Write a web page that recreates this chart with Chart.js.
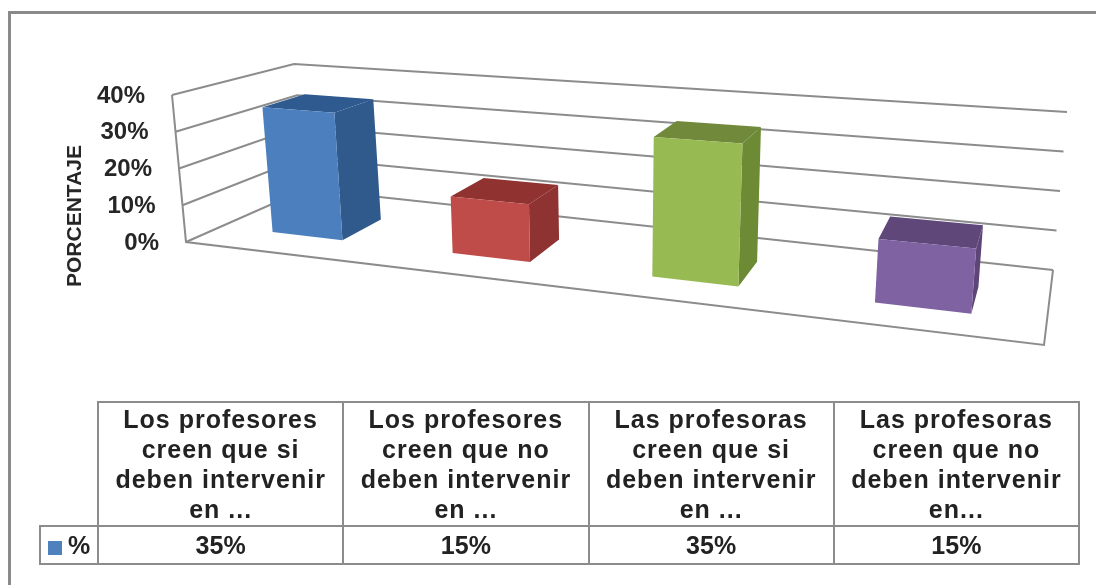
<!DOCTYPE html>
<html lang="es">
<head>
<meta charset="utf-8">
<title>Porcentaje</title>
<script src="https://cdn.jsdelivr.net/npm/chart.js@4"></script>
<style>
    html, body { margin: 0; padding: 0; background: #fff; overflow: hidden; }
    #wrap { position: relative; width: 1096px; height: 585px; }
    #frame { position: absolute; left: 8px; top: 11px; right: 0; bottom: 0; border-left: 3px solid #8a8a8a; border-top: 3px solid #8a8a8a; }
    #chart { position: absolute; left: 0; top: 0; }
    #dataTable { position: absolute; left: 39px; top: 401px; width: 1041px; height: 163px; table-layout: fixed; border-collapse: collapse; font: bold 25px/30px "Liberation Sans", Arial, sans-serif; color: #222; text-align: center; }
    #dataTable td { border: 2px solid #8c8c8c; padding: 0; overflow: hidden; }
    #dataTable td.empty { border-top: none; border-left: none; }
    #dataTable td.head { letter-spacing: 1px; }
    #key { display: inline-block; width: 14px; height: 14px; background: #4f81bd; margin-right: 6px; vertical-align: -1px; }
</style>
</head>
<body>
<div id="wrap">
    <div id="frame"></div>
    <canvas id="chart" width="1096" height="585"></canvas>
    <table id="dataTable"></table>
</div>
<script>
// Datos
const categories = [
    ["Los profesores", "creen que si", "deben intervenir", "en ..."],
    ["Los profesores", "creen que no", "deben intervenir", "en ..."],
    ["Las profesoras", "creen que si", "deben intervenir", "en ..."],
    ["Las profesoras", "creen que no", "deben intervenir", "en..."]
];
const seriesName = "%";
const values = [35, 15, 35, 15];
const tickValues = [0, 10, 20, 30, 40];
const tickLabels = ["0%", "10%", "20%", "30%", "40%"];
const axisTitle = "PORCENTAJE";

const frontColors = ["#4b7fbe", "#bf4c49", "#98ba52", "#7e62a2"];
const sideColors = ["#30598c", "#8e3331", "#6d8a35", "#5d4677"];
const topColors = ["#2f5a90", "#8f3230", "#71893a", "#5f477a"];

// Esquinas de la caja 3D: [izquierda/derecha][abajo/arriba][frente/fondo]
const box = {
    lbf: [186, 242], ltf: [172, 95], lbb: [306, 189], ltb: [294, 64],
    rbf: [1044, 345], rtf: [1060, 160], rbb: [1053, 270], rtb: [1067, 112]
};
const perspective = 1.24;
const barFront = 0.3;
const barBack = 0.67;

function lerp(a, b, t) {
    return [a[0] + (b[0] - a[0]) * t, a[1] + (b[1] - a[1]) * t];
}

// Pasa un punto del area del grafico a la caja 3D
function project(chart, px, py, d) {
    const area = chart.chartArea;
    const t = (px - area.left) / (area.right - area.left);
    const u = t / (t + perspective * (1 - t));
    const v = (area.bottom - py) / (area.bottom - area.top);
    const bottom = lerp(lerp(box.lbf, box.rbf, u), lerp(box.lbb, box.rbb, u), d);
    const top = lerp(lerp(box.ltf, box.rtf, u), lerp(box.ltb, box.rtb, u), d);
    return lerp(bottom, top, v);
}

function polyline(ctx, pts, close) {
    ctx.beginPath();
    pts.forEach((p, i) => i ? ctx.lineTo(p[0], p[1]) : ctx.moveTo(p[0], p[1]));
    if (close) ctx.closePath();
}

const box3d = {
    id: "box3d",
    beforeDatasetsDraw(chart) {
        const ctx = chart.ctx;
        const area = chart.chartArea;
        const y = chart.scales.y;
        ctx.save();
        ctx.strokeStyle = "#8c8c8c";
        ctx.lineWidth = 2;
        // lineas de las paredes
        tickValues.forEach(v => {
            const py = y.getPixelForValue(v);
            polyline(ctx, [
                project(chart, area.left, py, 0),
                project(chart, area.left, py, 1),
                project(chart, area.right, py, 1)
            ]);
            ctx.stroke();
        });
        // borde izquierdo y suelo
        polyline(ctx, [
            project(chart, area.left, area.top, 0),
            project(chart, area.left, area.bottom, 0),
            project(chart, area.right, area.bottom, 0),
            project(chart, area.right, area.bottom, 1)
        ]);
        ctx.stroke();

        // etiquetas del eje
        ctx.fillStyle = "#262626";
        ctx.font = 'bold 24px "Liberation Sans", Arial, sans-serif';
        ctx.textAlign = "right";
        ctx.textBaseline = "middle";
        tickValues.forEach((v, i) => {
            const p = project(chart, area.left, y.getPixelForValue(v), 0);
            ctx.fillText(tickLabels[i], p[0] - 27, p[1] + 1);
        });

        // titulo del eje
        ctx.translate(75, 216);
        ctx.rotate(-Math.PI / 2);
        ctx.textAlign = "center";
        ctx.font = 'bold 21px "Liberation Sans", Arial, sans-serif';
        ctx.fillText(axisTitle, 0, 0);
        ctx.restore();
    },
    // las barras se dibujan en 3D a partir de los elementos de Chart.js
    beforeDatasetDraw(chart, args) {
        const ctx = chart.ctx;
        args.meta.data.forEach((bar, i) => {
            const left = bar.x - bar.width / 2;
            const right = bar.x + bar.width / 2;
            const ftl = project(chart, left, bar.y, barFront);
            const ftr = project(chart, right, bar.y, barFront);
            const fbl = project(chart, left, bar.base, barFront);
            const fbr = project(chart, right, bar.base, barFront);
            const btl = project(chart, left, bar.y, barBack);
            const btr = project(chart, right, bar.y, barBack);
            const bbr = project(chart, right, bar.base, barBack);

            ctx.fillStyle = sideColors[i];
            polyline(ctx, [ftr, btr, bbr, fbr], true);
            ctx.fill();
            ctx.fillStyle = topColors[i];
            polyline(ctx, [ftl, btl, btr, ftr], true);
            ctx.fill();
            ctx.fillStyle = frontColors[i];
            polyline(ctx, [ftl, ftr, fbr, fbl], true);
            ctx.fill();
        });
        return false;
    }
};

new Chart(document.getElementById("chart"), {
    type: "bar",
    data: {
        labels: categories,
        datasets: [{
            label: seriesName,
            data: values,
            backgroundColor: frontColors,
            barPercentage: 0.4,
            categoryPercentage: 1
        }]
    },
    options: {
        responsive: false,
        animation: false,
        layout: { padding: 0 },
        plugins: { legend: { display: false }, tooltip: { enabled: false } },
        scales: {
            x: { display: false },
            y: { display: false, min: 0, max: 40, ticks: { stepSize: 10 } }
        }
    },
    plugins: [box3d]
});

// Tabla de datos
const table = document.getElementById("dataTable");
let html = '<colgroup><col style="width:58px">' + categories.map(() => "<col>").join("") + "</colgroup>";
html += '<tr style="height:124px"><td class="empty"></td>' + categories.map(c => '<td class="head">' + c.join("<br>") + "</td>").join("") + "</tr>";
html += '<tr style="height:38px"><td><span id="key"></span>' + seriesName + "</td>" + values.map(v => "<td>" + v + "%</td>").join("") + "</tr>";
table.innerHTML = html;
</script>
</body>
</html>
